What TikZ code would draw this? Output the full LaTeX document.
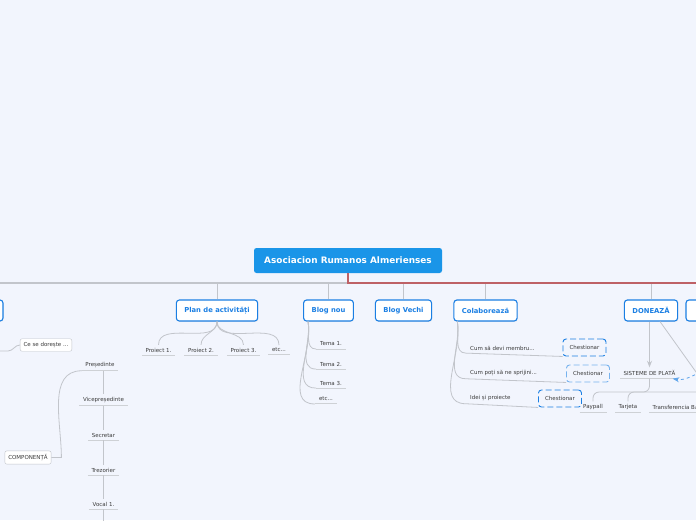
\documentclass[tikz,border=0pt]{standalone}
\usepackage{fontspec}
\setmainfont{DejaVu Sans}
\usetikzlibrary{arrows.meta, positioning, shadows}
\definecolor{bgblue}{HTML}{F2F5FD}
\definecolor{mapblue}{HTML}{1B7FE3}
\definecolor{rootblue}{HTML}{1A95E8}
\definecolor{linegray}{HTML}{C2C5CB}
\definecolor{linered}{HTML}{BE6166}
\definecolor{textgray}{HTML}{3A3A3A}
\newcommand{\leaffont}{\fontsize{5.5}{6.5}\selectfont}

\tikzset{
  rootbox/.style={fill=rootblue, rounded corners=2.5pt, text=white,
    font=\fontsize{8.9}{10}\selectfont\bfseries, minimum width=188pt, minimum height=25pt},
  topicbox/.style={draw=mapblue, fill=white, rounded corners=3pt, line width=1.1pt,
    text=mapblue, font=\fontsize{6.8}{8}\selectfont\bfseries, minimum height=21pt,
    inner xsep=8pt, drop shadow={opacity=0.12, shadow xshift=0.6pt, shadow yshift=-0.9pt}},
  leaf/.style={font=\leaffont, text=textgray, inner xsep=3.5pt, inner ysep=2.8pt,
    append after command={(\tikzlastnode.south west) edge[underbar] (\tikzlastnode.south east)}},
  rowtext/.style={font=\leaffont, text=textgray, inner xsep=0pt, inner ysep=2.8pt},
  underbar/.style={draw=linegray!80, line width=1pt},
  smallbox/.style={draw=linegray, fill=white, rounded corners=2pt, font=\leaffont,
    text=textgray, inner xsep=3.5pt, minimum height=12.5pt},
  askbox/.style={draw=mapblue, dash pattern=on 6pt off 3pt, rounded corners=3pt,
    line width=0.9pt, minimum width=43pt, minimum height=17pt, font=\leaffont, text=textgray},
  conn/.style={draw=linegray, line width=1pt},
  mainline/.style={draw=linegray, line width=2pt},
  redline/.style={draw=linered, line width=2pt},
}

\begin{document}
\begin{tikzpicture}[x=1pt, y=-1pt, >=Stealth]
  % fond
  \fill[bgblue] (0,0) rectangle (696,520);
  \useasboundingbox (0,0) rectangle (696,520);

  % racine
  \node[rootbox] (root) at (348,260.5) {Asociacion Rumanos Almerienses};
  \coordinate (hub) at (348,283);
  \coordinate (farright) at (780,283);

  % premier niveau
  \node[topicbox, minimum width=56pt] (leftnode) at (-25,310.5) {};
  \node[topicbox] (plan) at (217,310.5) {Plan de activități};
  \node[topicbox] (blognou) at (328.5,310.5) {Blog nou};
  \node[topicbox] (blogvechi) at (403.5,310.5) {Blog Vechi};
  \node[topicbox] (colab) at (485.5,310.5) {Colaborează};
  \node[topicbox] (doneaza) at (651,310.5) {DONEAZĂ};
  \node[topicbox, minimum width=56pt] (rightnode) at (714,310.5) {};

  % liaisons vers le premier niveau
  \draw[conn] (hub) -| (plan.north);
  \draw[conn] (hub) -| (blognou.north);
  \draw[conn] (hub) -| (blogvechi.north);
  \draw[conn] (hub) -| (colab.north);
  \draw[conn] (hub) -| (doneaza.north);
  \draw[mainline] (hub) -| (leftnode.north);
  \draw[redline] (root.south) |- (farright);

  % Plan de activitati
  \node[leaf] (p1) at (158.5,350) {Proiect 1.};
  \node[leaf] (p2) at (201,350) {Proiect 2.};
  \node[leaf] (p3) at (243.5,350) {Proiect 3.};
  \node[leaf] (petc) at (279,350) {etc...};
  \foreach \n in {p1,p2,p3,petc}
    \draw[conn, line width=0.8pt] (plan.south) to[out=-90, in=90] (\n.north);

  % Blog nou
  \coordinate (bn) at ([xshift=5pt]blognou.south west);
  \node[leaf, inner xsep=4pt] (tema1) at (331,344) {Tema 1.};
  \node[leaf, inner xsep=4pt] (tema2) at (331,364) {Tema 2.};
  \node[leaf, inner xsep=4pt] (tema3) at (331,383) {Tema 3.};
  \node[leaf, inner xsep=4pt] (tetc) at (326,399) {etc...};
  \foreach \n in {tema1,tema2,tema3,tetc}
    \draw[conn, line width=0.8pt] (bn) to[out=-80, in=180] (\n.south west);

  % Colaboreaza
  \coordinate (cb) at ([xshift=4pt]colab.south west);
  \node[askbox] (ch1) at (584.5,347.5) {Chestionar};
  \node[askbox, draw=mapblue!60] (ch2) at (588,373.5) {Chestionar};
  \node[askbox] (ch3) at (560,398.5) {Chestionar};
  \node[rowtext, anchor=west] (cum1) at (470,348) {Cum să devi membru...};
  \node[rowtext, anchor=west] (cum2) at (470,373) {Cum poți să ne sprijini...};
  \node[rowtext, anchor=west] (idei) at (470,398) {Idei și proiecte};
  \draw[conn, line width=0.8pt] (cb) to[out=-80, in=180] ([xshift=-4pt]cum1.south west) -- (ch1.south west);
  \draw[conn, line width=0.8pt] (cb) to[out=-80, in=180] ([xshift=-4pt]cum2.south west) -- (ch2.south west);
  \draw[conn, line width=0.8pt] (cb) to[out=-80, in=180] ([xshift=-4pt]idei.south west) -- (ch3.south west);

  % Doneaza
  \node[leaf, inner xsep=3pt] (sist) at (649.5,373) {SISTEME DE PLATĂ};
  \node[leaf] (paypall) at (593,407) {Paypall};
  \node[leaf] (tarjeta) at (628,407) {Tarjeta};
  \node[leaf, anchor=west] (transf) at (649,407) {Transferencia Bancaria};
  \coordinate (sj) at (649.5,392);
  \coordinate (offdiag) at (716,400);
  \coordinate (offask) at (706,370);
  \draw[conn, ->, line width=0.8pt] (doneaza.south -| sist.north) -- (sist.north);
  \draw[conn, line width=0.8pt] ([xshift=9pt]doneaza.south) -- (offdiag);
  \draw[conn, line width=0.8pt, rounded corners=6pt] (sist.south) -- (sj) -| (paypall.north);
  \draw[conn, line width=0.8pt, rounded corners=6pt] (sj) -| (tarjeta.north);
  \draw[conn, line width=0.8pt, rounded corners=6pt] (sj) -| ([xshift=-4pt]transf.north east);
  \draw[mapblue!70, dashed, line width=0.8pt, ->] (offask) to[out=200, in=-10] ([xshift=-6pt]sist.south east);

  % gauche
  \coordinate (offleft) at (-2,351);
  \node[smallbox] (ce) at (46,345) {Ce se dorește ...};
  \draw[conn, line width=0.8pt] (offleft) -- (8,351) to[out=0, in=180] (ce.west);
  \node[smallbox] (comp) at (28,457.5) {COMPONENȚĂ};
  \node[leaf] (pres) at (100,365) {Președinte};
  \node[leaf] (vice) at (103.5,400) {Vicepreședinte};
  \node[leaf] (secr) at (103.5,435) {Secretar};
  \node[leaf] (trez) at (103.5,470) {Trezorier};
  \node[leaf] (vocal) at (103.5,504) {Vocal 1.};
  \coordinate (vend) at (103.5,525);
  \draw[conn, line width=0.8pt] (comp.east) -- ++(10,0) to[out=90, in=180] (pres.south west);
  \draw[conn, line width=0.8pt] (pres.south -| vice.north) -- (vice.north);
  \draw[conn, line width=0.8pt] (vice.south) -- (secr.north);
  \draw[conn, line width=0.8pt] (secr.south) -- (trez.north);
  \draw[conn, line width=0.8pt] (trez.south) -- (vocal.north);
  \draw[conn, line width=0.8pt] (vocal.south) -- (vend);
\end{tikzpicture}
\end{document}
